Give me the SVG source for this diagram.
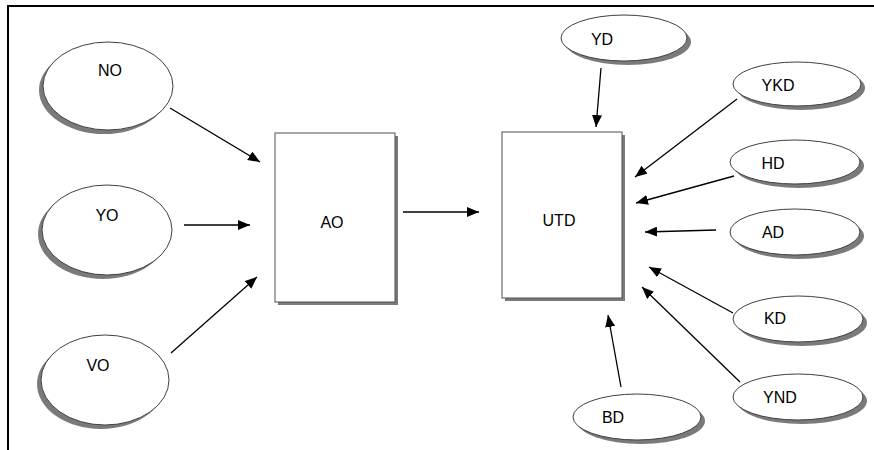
<svg xmlns="http://www.w3.org/2000/svg" width="874" height="450" viewBox="0 0 874 450">
  <style>
    .node { fill: #ffffff; stroke: #404040; stroke-width: 1; }
    .shadow { fill: #7a7a7a; stroke: none; }
    .box { fill: #ffffff; stroke: #505050; stroke-width: 1; }
    .label { font-family: "Liberation Sans", Arial, sans-serif; font-size: 16px; fill: #000000; text-anchor: middle; }
    .link { stroke: #000000; stroke-width: 1.3; fill: none; marker-end: url(#arrow); }
  </style>
  <defs>
    <marker id="arrow" viewBox="0 0 12 10" refX="12" refY="5" markerWidth="12" markerHeight="10" markerUnits="userSpaceOnUse" orient="auto">
      <path d="M0,0 L12,5 L0,10 Z" fill="#000000"/>
    </marker>
  </defs>

  <rect width="874" height="450" fill="#ffffff"/>

  <!-- frame -->
  <g id="frame">
    <line x1="8" y1="6" x2="874" y2="6" stroke="#000000" stroke-width="2"/>
    <line x1="8" y1="5" x2="8" y2="450" stroke="#000000" stroke-width="2"/>
  </g>

  <!-- left sources -->
  <g id="NO">
    <ellipse class="shadow" cx="104" cy="90" rx="65" ry="44"/>
    <ellipse class="node" cx="108" cy="86" rx="65" ry="44"/>
    <text class="label" x="110" y="76">NO</text>
  </g>
  <g id="YO">
    <ellipse class="shadow" cx="103" cy="234" rx="65" ry="45"/>
    <ellipse class="node" cx="107" cy="230" rx="65" ry="45"/>
    <text class="label" x="107" y="221">YO</text>
  </g>
  <g id="VO">
    <ellipse class="shadow" cx="101" cy="384" rx="64" ry="45"/>
    <ellipse class="node" cx="105" cy="380" rx="64" ry="45"/>
    <text class="label" x="98" y="371">VO</text>
  </g>

  <!-- AO box -->
  <g id="AO">
    <rect class="shadow" x="278" y="136" width="120" height="169"/>
    <rect class="box" x="275" y="133" width="120" height="169"/>
    <text class="label" x="332" y="228">AO</text>
  </g>

  <!-- UTD box -->
  <g id="UTD">
    <rect class="shadow" x="505" y="135" width="120" height="166"/>
    <rect class="box" x="502" y="132" width="120" height="166"/>
    <text class="label" x="559" y="226">UTD</text>
  </g>

  <!-- right sources -->
  <g id="YD">
    <ellipse class="shadow" cx="628" cy="42" rx="63" ry="23"/>
    <ellipse class="node" cx="624" cy="38" rx="63" ry="23"/>
    <text class="label" x="602" y="45">YD</text>
  </g>
  <g id="YKD">
    <ellipse class="shadow" cx="801" cy="88" rx="64" ry="22"/>
    <ellipse class="node" cx="797" cy="84" rx="64" ry="22"/>
    <text class="label" x="778" y="91">YKD</text>
  </g>
  <g id="HD">
    <ellipse class="shadow" cx="799" cy="166" rx="65" ry="22"/>
    <ellipse class="node" cx="795" cy="162" rx="65" ry="22"/>
    <text class="label" x="773" y="169">HD</text>
  </g>
  <g id="AD">
    <ellipse class="shadow" cx="799" cy="236" rx="65" ry="23"/>
    <ellipse class="node" cx="795" cy="232" rx="65" ry="23"/>
    <text class="label" x="773" y="238">AD</text>
  </g>
  <g id="KD">
    <ellipse class="shadow" cx="802" cy="323" rx="65" ry="23"/>
    <ellipse class="node" cx="798" cy="319" rx="65" ry="23"/>
    <text class="label" x="775" y="324">KD</text>
  </g>
  <g id="YND">
    <ellipse class="shadow" cx="802" cy="401" rx="65" ry="23"/>
    <ellipse class="node" cx="798" cy="397" rx="65" ry="23"/>
    <text class="label" x="780" y="403">YND</text>
  </g>
  <g id="BD">
    <ellipse class="shadow" cx="641" cy="421" rx="64" ry="23"/>
    <ellipse class="node" cx="637" cy="417" rx="64" ry="23"/>
    <text class="label" x="613" y="423">BD</text>
  </g>

  <!-- connectors -->
  <g id="connectors">
    <line class="link" x1="170" y1="108" x2="260" y2="162"/>
    <line class="link" x1="184" y1="225" x2="250" y2="225"/>
    <line class="link" x1="171" y1="353" x2="257" y2="277"/>
    <line class="link" x1="403" y1="212" x2="479" y2="212"/>
    <line class="link" x1="601" y1="68" x2="596" y2="127"/>
    <line class="link" x1="737" y1="99" x2="635" y2="177"/>
    <line class="link" x1="734" y1="176" x2="636" y2="203"/>
    <line class="link" x1="716" y1="230" x2="645" y2="232"/>
    <line class="link" x1="733" y1="313" x2="649" y2="267"/>
    <line class="link" x1="740" y1="382" x2="642" y2="287"/>
    <line class="link" x1="621" y1="387" x2="608" y2="315"/>
  </g>
</svg>
